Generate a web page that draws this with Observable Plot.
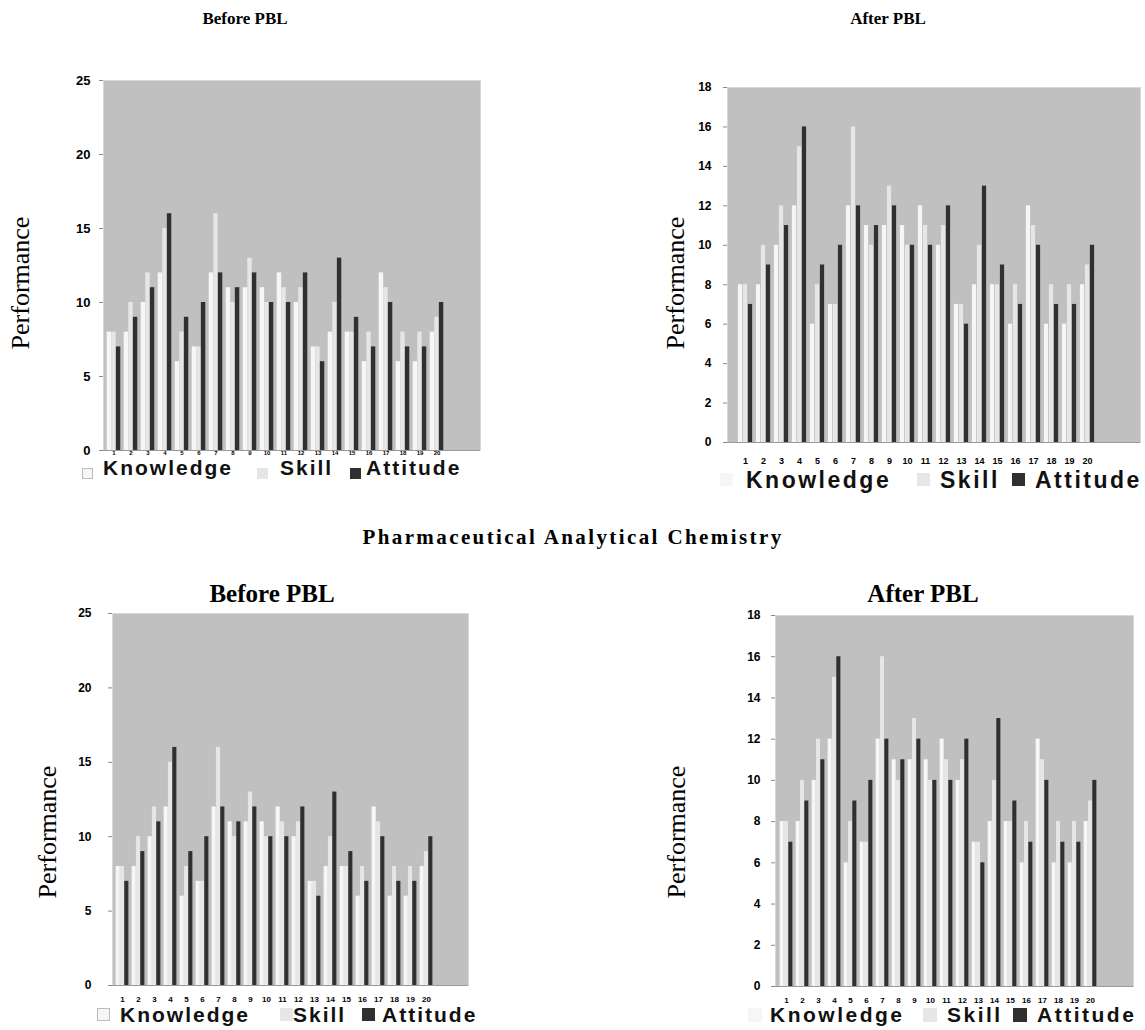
<!DOCTYPE html>
<html><head><meta charset="utf-8">
<script src="https://cdn.jsdelivr.net/npm/d3@7"></script>
<script src="https://cdn.jsdelivr.net/npm/@observablehq/plot@0.6"></script>
<style>
body{margin:0;background:#fff;}
#page{position:relative;width:1145px;height:1030px;overflow:hidden;background:#fff;}
.title{position:absolute;font-family:"Liberation Serif","Times New Roman",serif;font-weight:bold;color:#000;white-space:nowrap;line-height:1;transform:translateX(-50%);}
.ylab{position:absolute;font-family:"Liberation Serif","Times New Roman",serif;font-size:26px;line-height:1;white-space:nowrap;transform:translate(-50%,-50%) rotate(-90deg);}
.leg{position:absolute;font-family:"Liberation Sans",Arial,sans-serif;font-weight:bold;white-space:nowrap;line-height:1;color:#111;}
.sw{position:absolute;}
</style></head><body><div id="page"></div>
<script>
// ---- data ----
const groups = [1,2,3,4,5,6,7,8,9,10,11,12,13,14,15,16,17,18,19,20];
const beforeKnowledge = [8,8,10,12,6,7,12,11,11,11,12,10,7,8,8,6,12,6,6,8];
const beforeSkill     = [8,10,12,15,8,7,16,10,13,10,11,11,7,10,8,8,11,8,8,9];
const beforeAttitude  = [7,9,11,16,9,10,12,11,12,10,10,12,6,13,9,7,10,7,7,10];
const afterKnowledge  = [8,8,10,12,6,7,12,11,11,11,12,10,7,8,8,6,12,6,6,8];
const afterSkill      = [8,10,12,15,8,7,16,10,13,10,11,11,7,10,8,8,11,8,8,9];
const afterAttitude   = [7,9,11,16,9,10,12,11,12,10,10,12,6,13,9,7,10,7,7,10];
const seriesNames = ["Knowledge","Skill","Attitude"];
const beforeTicks = [0,5,10,15,20,25];
const afterTicks = [0,2,4,6,8,10,12,14,16,18];
const xSlots = [1,2,3,4,5,6,7,8,9,10,11,12,13,14,15,16,17,18,19,20,21,22];

const colors = {Knowledge:"#f6f6f6", Skill:"#e6e6e6", Attitude:"#303030"};
const page = document.getElementById("page");

function el(tag, cls, text, style){
  const e = document.createElement(tag);
  if (cls) e.className = cls;
  if (text) e.textContent = text;
  Object.assign(e.style, style||{});
  page.appendChild(e);
  return e;
}

function panel(cfg){
  const [l,t,r,b] = cfg.frame;
  const mL=50, mT=10, mR=4, mB=30;
  const W = r-l+mL+mR, H = b-t+mT+mB;
  const bw = (r-l)/xSlots.length;
  const pad = bw*0.1, bar = bw*0.8/3;
  const rows = groups.map((g,i)=>({g, k:cfg.K[i], s:cfg.S[i], a:cfg.A[i]}));
  const svg = Plot.plot({
    width: W, height: H,
    marginLeft: mL, marginTop: mT, marginRight: mR, marginBottom: mB,
    style: {background:"transparent", fontFamily:"'Liberation Sans', Arial, sans-serif", color:"#000"},
    x: {type:"band", domain: xSlots, padding:0},
    y: {domain:[0, cfg.yMax]},
    marks: [
      Plot.frame({fill:"#c0c0c0", stroke:"#d8d8d8"}),
      Plot.barY(rows, {x:"g", y:"k", fill:colors.Knowledge, insetLeft:pad, insetRight:bw-pad-bar}),
      Plot.barY(rows, {x:"g", y:"s", fill:colors.Skill, insetLeft:pad+bar, insetRight:bw-pad-2*bar}),
      Plot.barY(rows, {x:"g", y:"a", fill:colors.Attitude, insetLeft:pad+2*bar, insetRight:pad}),
      Plot.ruleY([0], {stroke:"#9a9a9a"}),
      Plot.axisY({ticks: cfg.ticks, tickSize:4, tickPadding:cfg.yPad, fontSize:cfg.yFont, fontWeight:"bold", label:null, stroke:"#888"}),
      Plot.axisX({tickSize:0, tickPadding:cfg.xPad, fontSize:cfg.xFont, fontWeight:"bold", label:null,
        tickFormat: d => d <= groups.length ? String(d) : ""})
    ]
  });
  svg.style.position = "absolute";
  svg.style.left = (l-mL)+"px";
  svg.style.top = (t-mT)+"px";
  page.appendChild(svg);
  el("div","ylab","Performance",{left:cfg.ylab[0]+"px", top:cfg.ylab[1]+"px"});
  const L = cfg.legend;
  seriesNames.forEach((name,i)=>{
    const it = L.items[i];
    el("div","sw",null,{left:it.sx+"px", top:L.swTop+"px", width:L.sw+"px", height:L.sw+"px",
      background:colors[name], border: name==="Knowledge" && L.kBorder ? "1px solid #bbb" : "none", boxSizing:"border-box"});
    el("div","leg",name,{left:it.tx+"px", top:L.top+"px", fontSize:L.font+"px", letterSpacing:L.ls+"px"});
  });
}

// titles
el("div","title","Before PBL",{left:"245px", top:"10px", fontSize:"17px"});
el("div","title","After PBL",{left:"888px", top:"10px", fontSize:"17px"});
el("div","title","Pharmaceutical Analytical Chemistry",{left:"573px", top:"527px", fontSize:"21px", letterSpacing:"2.4px"});
el("div","title","Before PBL",{left:"272px", top:"581px", fontSize:"25px"});
el("div","title","After PBL",{left:"923px", top:"581px", fontSize:"25px"});

panel({frame:[103,80,480,450], yMax:25, ticks:beforeTicks, K:beforeKnowledge, S:beforeSkill, A:beforeAttitude,
  yPad:9, yFont:13, xPad:0, xFont:6, ylab:[21,283],
  legend:{top:457, swTop:468, sw:11, font:21, ls:2, kBorder:true,
    items:[{sx:82,tx:103},{sx:257,tx:280},{sx:350,tx:366}]}});
panel({frame:[727,87,1140,442], yMax:18, ticks:afterTicks, K:afterKnowledge, S:afterSkill, A:afterAttitude,
  yPad:12, yFont:12, xPad:15, xFont:9, ylab:[676,283],
  legend:{top:469, swTop:473, sw:13, font:23, ls:2.5, kBorder:false,
    items:[{sx:720,tx:746},{sx:917,tx:940},{sx:1012,tx:1035}]}});
panel({frame:[112,613,468,985], yMax:25, ticks:beforeTicks, K:beforeKnowledge, S:beforeSkill, A:beforeAttitude,
  yPad:17, yFont:12, xPad:11, xFont:8, ylab:[48,832],
  legend:{top:1004, swTop:1008, sw:13, font:21, ls:2, kBorder:true,
    items:[{sx:97,tx:120},{sx:280,tx:293},{sx:362,tx:382}]}});
panel({frame:[775,615,1133,986], yMax:18, ticks:afterTicks, K:afterKnowledge, S:afterSkill, A:afterAttitude,
  yPad:11, yFont:12, xPad:11, xFont:8, ylab:[677,832],
  legend:{top:1004, swTop:1008, sw:14, font:21, ls:2.5, kBorder:false,
    items:[{sx:748,tx:770},{sx:923,tx:947},{sx:1013,tx:1037}]}});
</script>
</body></html>
